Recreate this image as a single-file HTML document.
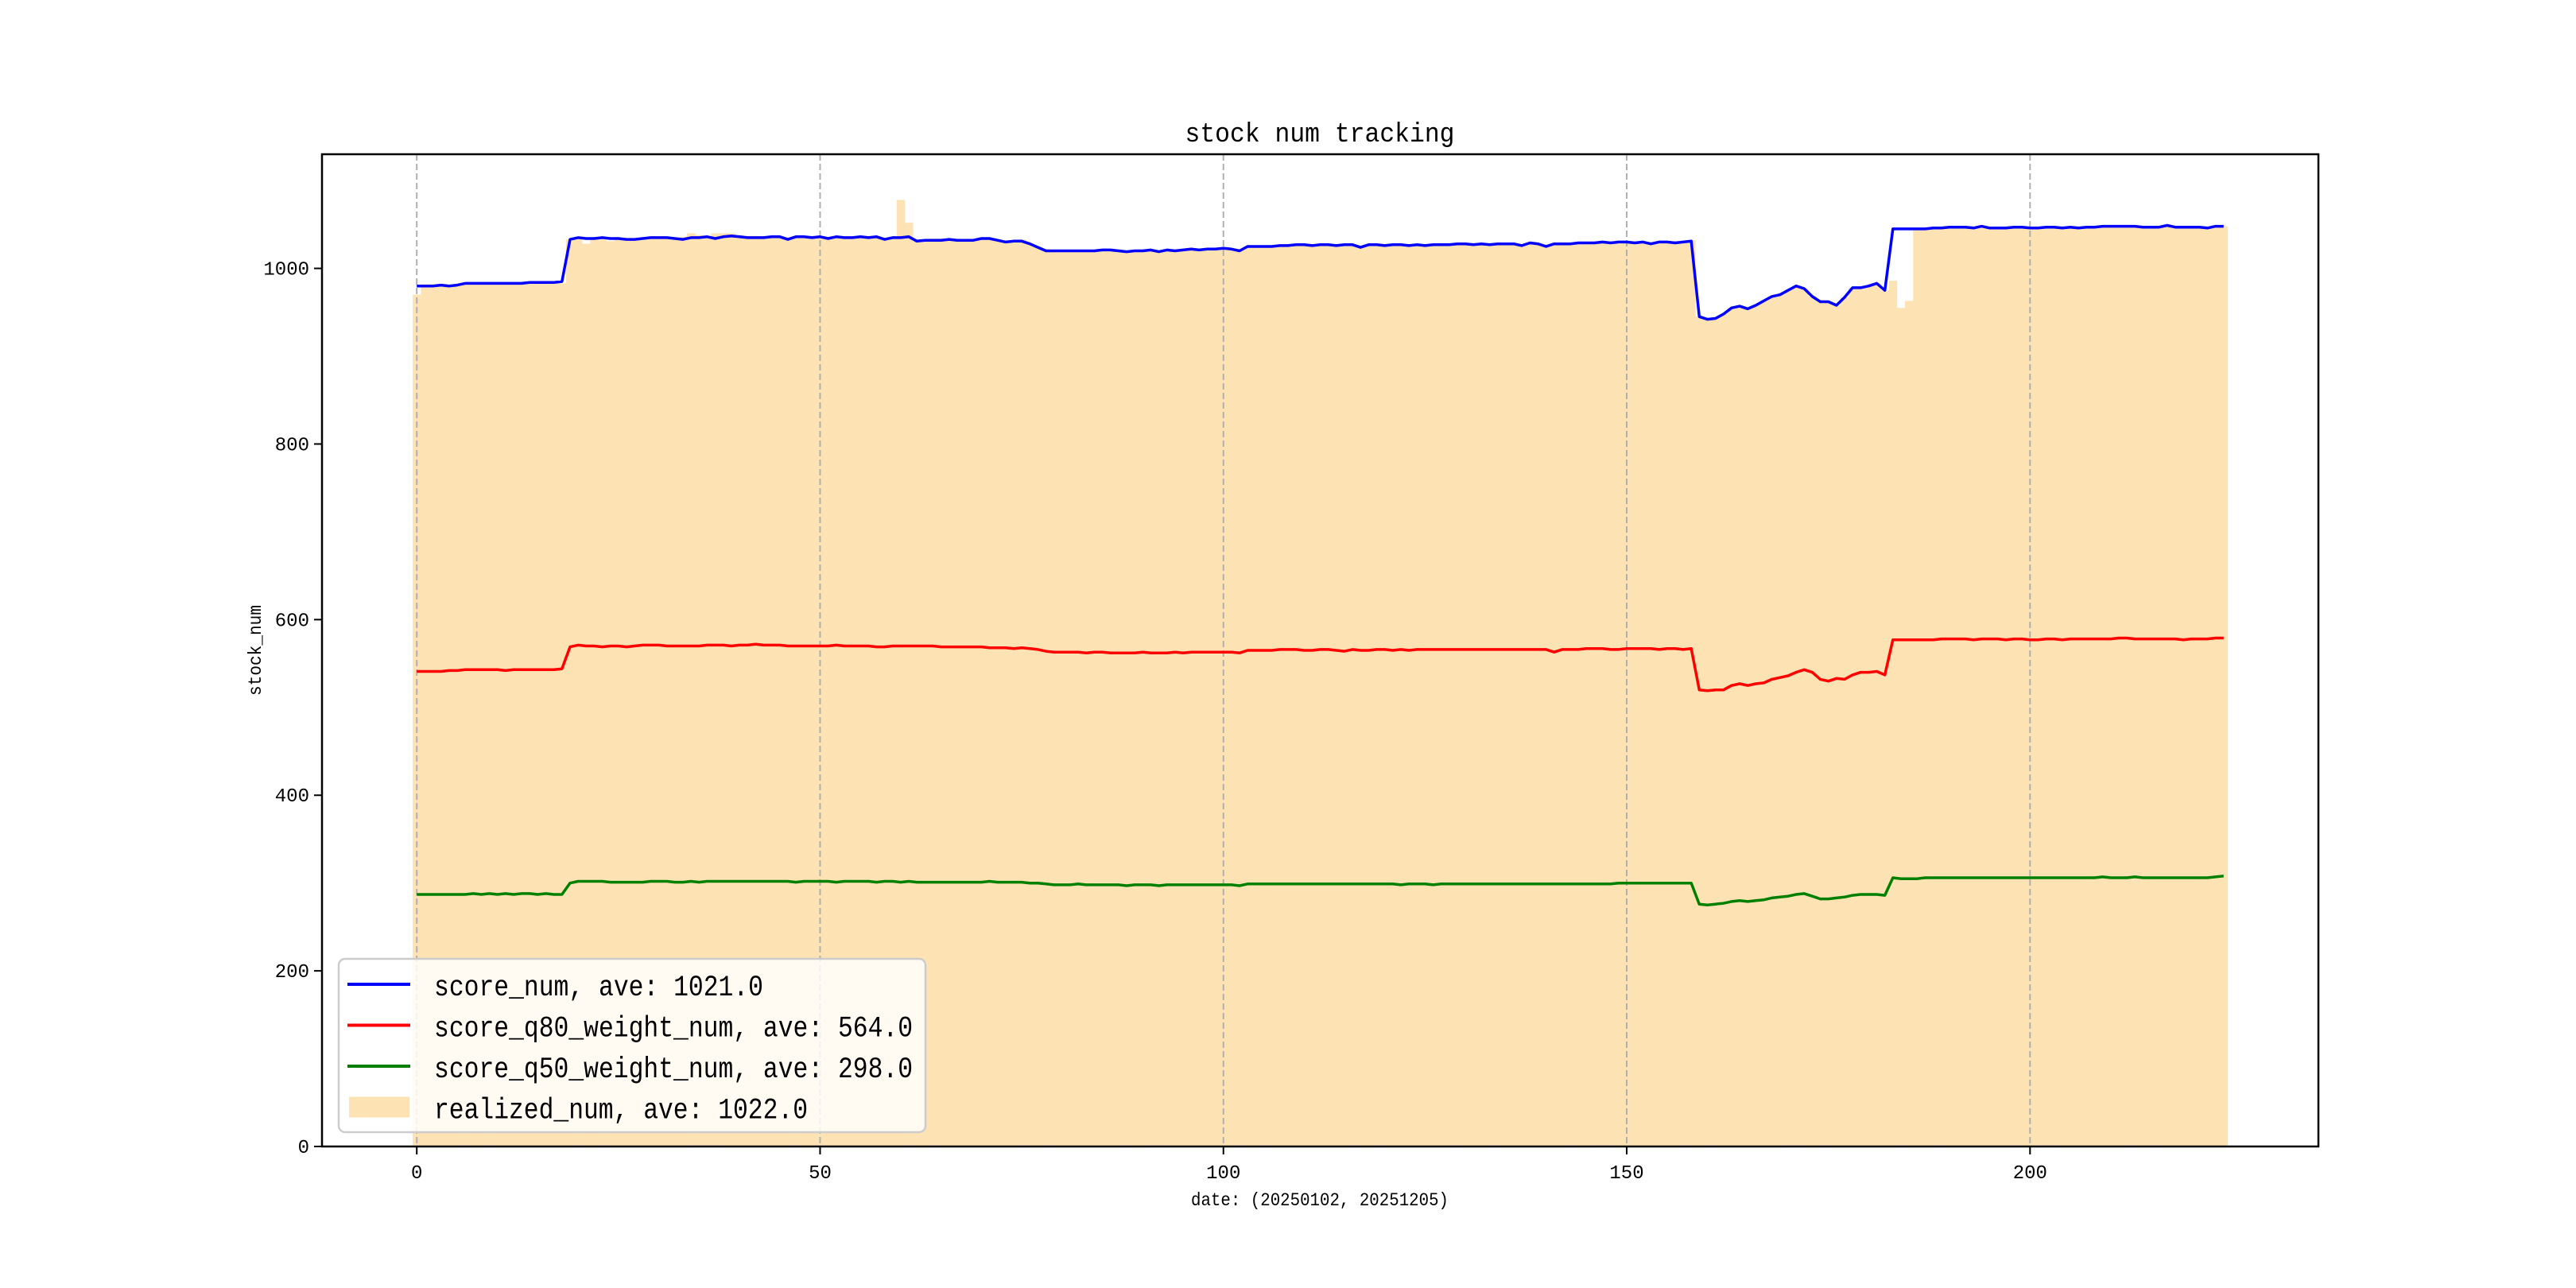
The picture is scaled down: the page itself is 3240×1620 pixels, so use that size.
<!DOCTYPE html>
<html><head><meta charset="utf-8"><style>
html,body{margin:0;padding:0;background:#fff;}
svg{display:block;}
text{font-family:"Liberation Mono","WenQuanYi Zen Hei",monospace;fill:#000;}
</style></head><body>
<svg id="chart" width="3240" height="1620" viewBox="0 0 3240 1620" xmlns="http://www.w3.org/2000/svg">
<rect width="3240" height="1620" fill="#fff"/>
<g id="bars"></g>
<g id="grid"></g>
<g id="lines"></g>
<g id="axes"></g>
<text x="1660" y="178" font-size="34" text-anchor="middle" textLength="339" lengthAdjust="spacingAndGlyphs">stock num tracking</text>
<text x="1660" y="1516" font-size="23" text-anchor="middle" textLength="324" lengthAdjust="spacingAndGlyphs">date: (20250102, 20251205)</text>
<text transform="translate(328,818) rotate(-90)" font-size="23" text-anchor="middle" textLength="114" lengthAdjust="spacingAndGlyphs">stock_num</text>
<g id="legend"></g>
</svg>
<script>
const xTicks=[0,50,100,150,200];
const yTicks=[0,200,400,600,800,1000];
const scoreNum=[980,980,980,981,980,981,983,983,983,983,983,983,983,983,984,984,984,984,985,
1033,1035,1034,1034,1035,1034,1034,1033,1033,1034,1035,1035,1035,1034,1033,1035,1035,1036,1034,1036,1037,1036,1035,1035,1035,1036,1036,1033,1036,1036,1035,
1036,1034,1036,1035,1035,1036,1035,1036,1033,1035,1035,1036,1031,1032,1032,1032,1033,1032,1032,1032,1034,1034,1032,1030,1031,1031,1028,1024,1020,1020,
1020,1020,1020,1020,1020,1021,1021,1020,1019,1020,1020,1021,1019,1021,1020,1021,1022,1021,1022,1022,1023,1022,1020,1025,1025,1025,1025,1026,1026,1027,
1027,1026,1027,1027,1026,1027,1027,1024,1027,1027,1026,1027,1027,1026,1027,1026,1027,1027,1027,1028,1028,1027,1028,1027,1028,1028,1028,1026,1029,1028,
1025,1028,1028,1028,1029,1029,1029,1030,1029,1030,1030,1029,1030,1028,1030,1030,1029,1030,1031,
945,942,943,948,955,957,954,958,963,968,970,975,980,977,968,962,962,958,967,978,978,980,983,975,
1045,1045,1045,1045,1045,1046,1046,1047,1047,1047,1046,1048,1046,1046,1046,1047,1047,1046,1046,1047,1047,1046,1047,1046,1047,1047,1048,1048,1048,1048,1048,1047,1047,1047,1049,1047,1047,1047,1047,1046,1048,1048];
const realizedNum=[970,982,982,982,981,981,983,983,983,983,983,983,983,983,984,984,984,983,983,
1033,1033,1028,1034,1033,1031,1034,1033,1033,1034,1035,1035,1035,1034,1036,1040,1038,1037,1040,1040,1040,1038,1037,1037,1036,1037,1036,1035,1036,1037,1037,
1036,1036,1036,1036,1035,1036,1035,1036,1035,1036,1078,1052,1033,1033,1034,1034,1034,1033,1032,1032,1034,1034,1032,1031,1031,1033,1028,1024,1022,1021,
1021,1021,1021,1021,1021,1021,1021,1021,1020,1021,1021,1021,1020,1021,1021,1021,1022,1022,1022,1022,1023,1022,1022,1025,1025,1025,1025,1026,1026,1027,
1027,1027,1027,1027,1027,1027,1027,1025,1027,1027,1027,1027,1027,1027,1027,1027,1027,1027,1027,1028,1028,1028,1028,1028,1028,1028,1028,1027,1029,1028,
1027,1028,1028,1028,1029,1029,1029,1030,1029,1030,1030,1030,1030,1030,1030,1031,1031,1031,1032,
945,942,943,948,955,957,954,958,963,968,970,975,980,977,968,962,962,958,967,978,978,980,983,975,
986,955,963,1045,1045,1046,1046,1047,1047,1047,1047,1048,1047,1047,1047,1047,1047,1047,1047,1047,1047,1047,1047,1047,1047,1047,1048,1048,1048,1049,1048,1048,1048,1048,1049,1048,1048,1047,1047,1047,1048,1048];
const q80Num=[541,541,541,541,542,542,543,543,543,543,543,542,543,543,543,543,543,543,544,
569,571,570,570,569,570,570,569,570,571,571,571,570,570,570,570,570,571,571,571,570,571,571,572,571,571,571,570,570,570,570,
570,570,571,570,570,570,570,569,569,570,570,570,570,570,570,569,569,569,569,569,569,568,568,568,567,568,567,566,564,563,
563,563,563,562,563,563,562,562,562,562,563,562,562,562,563,562,563,563,563,563,563,563,562,565,565,565,565,566,566,566,
565,565,566,566,565,564,566,565,565,566,566,565,566,565,566,566,566,566,566,566,566,566,566,566,566,566,566,566,566,566,
566,563,566,566,566,567,567,567,566,566,567,567,567,567,566,567,567,566,567,
520,519,520,520,525,527,525,527,528,532,534,536,540,543,540,532,530,533,532,537,540,540,541,537,
577,577,577,577,577,577,578,578,578,578,577,578,578,578,577,578,578,577,577,578,578,577,578,578,578,578,578,578,579,579,578,578,578,578,578,578,577,578,578,578,579,579];
const q50Num=[287,287,287,287,287,287,287,288,287,288,287,288,287,288,288,287,288,287,287,
300,302,302,302,302,301,301,301,301,301,302,302,302,301,301,302,301,302,302,302,302,302,302,302,302,302,302,302,301,302,302,
302,302,301,302,302,302,302,301,302,302,301,302,301,301,301,301,301,301,301,301,301,302,301,301,301,301,300,300,299,298,
298,298,299,298,298,298,298,298,297,298,298,298,297,298,298,298,298,298,298,298,298,298,297,299,299,299,299,299,299,299,
299,299,299,299,299,299,299,299,299,299,299,299,298,299,299,299,298,299,299,299,299,299,299,299,299,299,299,299,299,299,
299,299,299,299,299,299,299,299,299,300,300,300,300,300,300,300,300,300,300,
276,275,276,277,279,280,279,280,281,283,284,285,287,288,285,282,282,283,284,286,287,287,287,286,
306,305,305,305,306,306,306,306,306,306,306,306,306,306,306,306,306,306,306,306,306,306,306,306,306,306,307,306,306,306,307,306,306,306,306,306,306,306,306,306,307,308];
const legendLabels=["score_num, ave: 1021.0","score_q80_weight_num, ave: 564.0","score_q50_weight_num, ave: 298.0","realized_num, ave: 1022.0"];

const NS="http://www.w3.org/2000/svg";
const L=405,R=2916,T=194,B=1442;
const XMIN=-11.75,XMAX=235.75,YMIN=0,YMAX=1130;
function xs(v){return L+(v-XMIN)/(XMAX-XMIN)*(R-L);}
function ys(v){return B-(v-YMIN)/(YMAX-YMIN)*(B-T);}
function mk(tag,attrs,parent){const e=document.createElementNS(NS,tag);for(const k in attrs)e.setAttribute(k,attrs[k]);parent.appendChild(e);return e;}

const gb=document.getElementById('bars');
realizedNum.forEach((v,i)=>{
  const r=mk('rect',{x:xs(i-0.5),y:ys(v),width:xs(i+0.5)-xs(i-0.5)+0.3,height:ys(0)-ys(v),fill:'#FDE2B4'},gb);
  
  
});
const gg=document.getElementById('grid');
xTicks.forEach(t=>{
  const l=mk('line',{x1:xs(t),x2:xs(t),y1:T,y2:B,stroke:'#b0b0b0','stroke-width':2,'stroke-dasharray':'8,4'},gg);
  
  
});
const gl=document.getElementById('lines');
function drawLine(arr,color,name){
  const p=mk('polyline',{points:arr.map((v,i)=>xs(i).toFixed(1)+','+ys(v).toFixed(1)).join(' '),fill:'none',stroke:color,'stroke-width':3.5,'stroke-linejoin':'round'},gl);
  
  
}
drawLine(scoreNum,'#0000ff','score-num-line');
drawLine(q80Num,'#ff0000','score-q80-line');
drawLine(q50Num,'#008000','score-q50-line');

const ga=document.getElementById('axes');
const frame=mk('rect',{x:L,y:T,width:R-L,height:B-T,fill:'none',stroke:'#000','stroke-width':2.5},ga);


xTicks.forEach(t=>{
  mk('line',{x1:xs(t),x2:xs(t),y1:B,y2:B+10,stroke:'#000','stroke-width':2},ga);
  const tx=mk('text',{x:xs(t),y:B+40,'font-size':24,'text-anchor':'middle'},ga);
  tx.textContent=String(t);
  
  
});
yTicks.forEach(t=>{
  mk('line',{x1:L-10,x2:L,y1:ys(t),y2:ys(t),stroke:'#000','stroke-width':2},ga);
  const tx=mk('text',{x:L-16,y:ys(t)+8,'font-size':24,'text-anchor':'end'},ga);
  tx.textContent=String(t);
  
  
});

const lg=document.getElementById('legend');
const box=mk('rect',{x:426,y:1206,width:738,height:218,rx:8,fill:'#fff','fill-opacity':0.82,stroke:'#cccccc','stroke-width':2.5},lg);


const colors=['#0000ff','#ff0000','#008000'];
legendLabels.forEach((lab,i)=>{
  const y=1238+i*51.5;
  if(i<3){
    const h=mk('line',{x1:437,x2:516,y1:y,y2:y,stroke:colors[i],'stroke-width':4},lg);
    
    
  } else {
    const h=mk('rect',{x:439,y:y-13,width:76,height:26,fill:'#FDE2B4'},lg);
    
    
  }
  const tx=mk('text',{x:546,y:y+14,'font-size':37,textLength:(lab.length*18.8).toFixed(0),lengthAdjust:'spacingAndGlyphs'},lg);
  tx.textContent=lab;
  
  
});
</script>
</body></html>
